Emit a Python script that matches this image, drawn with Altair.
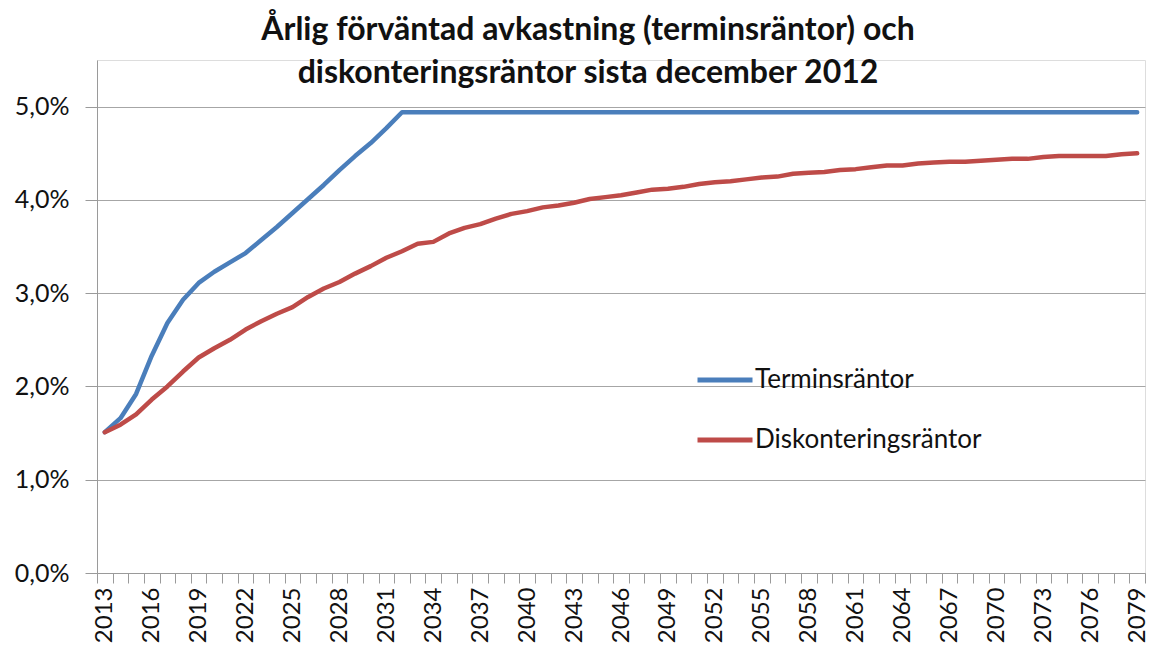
import altair as alt
import pandas as pd

years = list(range(2013, 2080))

terminsrantor = [
    1.51, 1.66, 1.92, 2.33, 2.68, 2.93, 3.11, 3.23, 3.33, 3.43,
    3.57, 3.71, 3.86, 4.01, 4.16, 4.32, 4.47, 4.61, 4.77, 4.94,
] + [4.94] * 47

diskonteringsrantor = [
    1.51, 1.59, 1.70, 1.86, 2.00, 2.16, 2.31, 2.41, 2.50, 2.61,
    2.70, 2.78, 2.85, 2.96, 3.05, 3.12, 3.21, 3.29, 3.38, 3.45,
    3.53, 3.55, 3.64, 3.70, 3.74, 3.80, 3.85, 3.88, 3.92, 3.94,
    3.97, 4.01, 4.03, 4.05, 4.08, 4.11, 4.12, 4.14, 4.17, 4.19,
    4.20, 4.22, 4.24, 4.25, 4.28, 4.29, 4.30, 4.32, 4.33, 4.35,
    4.37, 4.37, 4.39, 4.40, 4.41, 4.41, 4.42, 4.43, 4.44, 4.44,
    4.46, 4.47, 4.47, 4.47, 4.47, 4.49, 4.50,
]

series_names = ["Terminsräntor", "Diskonteringsräntor"]
series_colors = ["#4A7EBB", "#BE4B48"]
y_ticks = [0, 0.01, 0.02, 0.03, 0.04, 0.05]

rows = []
for name, vals in zip(series_names, [terminsrantor, diskonteringsrantor]):
    for yr, v in zip(years, vals):
        rows.append({"År": yr, "Ränta": v / 100, "Serie": name})
df = pd.DataFrame(rows)

FONT = "Lato"

chart = alt.Chart(df).mark_line(strokeWidth=4.5, strokeCap="round", strokeJoin="round").encode(
    x=alt.X(
        "År:O",
        scale=alt.Scale(paddingInner=0, paddingOuter=0),
        axis=alt.Axis(
            title=None,
            labelAngle=-90,
            labelExpr="(datum.value - 2013) % 3 == 0 ? datum.label : ''",
            labelFontSize=24,
            labelFont=FONT,
            labelColor="#111111",
            labelPadding=4,
            tickBand="extent",
            tickSize=10,
            tickColor="#9A9A9A",
            domainColor="#9A9A9A",
            grid=False,
            labelBaseline="middle",
            labelAlign="right",
            labelOverlap=False,
        ),
    ),
    y=alt.Y(
        "Ränta:Q",
        scale=alt.Scale(domain=[0, 0.055], nice=False),
        axis=alt.Axis(
            title=None,
            values=y_ticks,
            labelExpr="replace(format(datum.value, '.1%'), '.', ',')",
            labelFontSize=25,
            labelFont=FONT,
            labelColor="#111111",
            labelPadding=16,
            tickSize=12,
            tickColor="#9A9A9A",
            domainColor="#9A9A9A",
            gridColor="#A6A6A6",
            gridWidth=1.2,
        ),
    ),
    color=alt.Color(
        "Serie:N",
        scale=alt.Scale(domain=series_names, range=series_colors),
        sort=series_names,
        legend=alt.Legend(
            title=None,
            orient="none",
            legendX=598,
            legendY=290,
            symbolType="stroke",
            symbolSize=3025,
            symbolStrokeWidth=5,
            labelFontSize=26,
            labelFont=FONT,
            labelColor="#111111",
            labelOffset=0,
            labelLimit=0,
            rowPadding=17,
            padding=0,
        ),
    ),
).properties(
    width=1048,
    height=513,
    title=alt.TitleParams(
        text=["Årlig förväntad avkastning (terminsräntor) och", "diskonteringsräntor sista december 2012"],
        font=FONT,
        fontSize=32,
        fontWeight="bold",
        color="#111111",
        anchor="middle",
        dx=-33,
        lineHeight=43,
        offset=-30,
    ),
    autosize=alt.AutoSizeParams(type="none"),
    padding={"left": 89, "top": 52, "right": 4, "bottom": 80},
).configure_view(stroke=None).configure(background="white")

chart.save("out.html", embed_options={"renderer": "svg", "actions": False})
